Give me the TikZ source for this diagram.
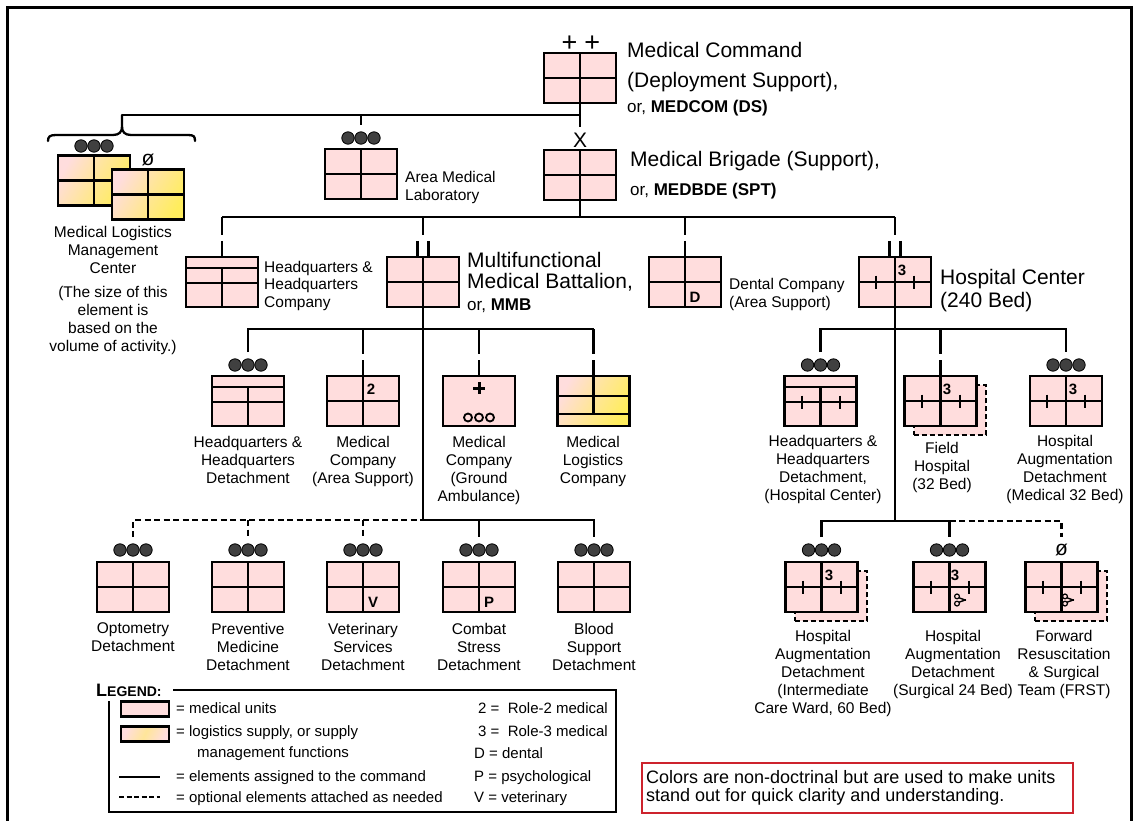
\documentclass[tikz,border=0pt]{standalone}
\usepackage{fontspec}
\setmainfont{Liberation Sans}
\usetikzlibrary{calc}

\definecolor{medpink}{RGB}{255,221,221}
\definecolor{logyellow}{RGB}{255,240,70}
\definecolor{dotgray}{RGB}{64,64,64}
\definecolor{notered}{RGB}{205,35,45}

\newcommand{\fsz}[2]{\fontsize{#1}{#2}\selectfont}

% quadrant lines of the medical unit symbol
\newcommand{\medlines}[1]{\draw[inln] (#1.north) -- (#1.south) (#1.west) -- (#1.east);}
% headquarters symbol: extra bar across the top
\newcommand{\hqlines}[1]{\draw[inln] ($(#1.north west)+(0,11)$) -- ($(#1.north east)+(0,11)$)
   ($(#1.west)+(0,1)$) -- ($(#1.east)+(0,1)$) ($(#1.north)+(0,11)$) -- (#1.south);}
% hospital ticks on the horizontal line
\newcommand{\hticks}[2]{\draw[tickln] ($(#1.center)+(-19,#2-6.5)$) -- ++(0,13) ($(#1.center)+(19,#2-6.5)$) -- ++(0,13);}
% echelon bars above a box
\newcommand{\coybar}[1]{\draw[conn] ($(#1.north)+(0,-16)$) -- (#1.north);}
\newcommand{\bnbars}[1]{\draw[conn] ($(#1.north)+(-5.5,-16)$) -- ++(0,16) ($(#1.north)+(5.5,-16)$) -- ++(0,16);}
% detachment dots; the named coordinate is where the feeding line stops
\newcommand{\threedots}[3]{\coordinate (#1) at (#2,#3-13);
  \foreach \dx in {-13,0,13}{\filldraw[fill=dotgray,draw=black,line width=0.8pt] ({#2+\dx},#3) circle (6.2pt);}}
% surgical scissors
\newcommand{\scissors}[2]{\draw[line width=1.2pt] (#1-3,#2-3.6) circle (2.4pt) (#1-3,#2+3.6) circle (2.4pt);
  \draw[line width=1.4pt] (#1-1,#2-2.2) -- (#1+6,#2+0.3) (#1-1,#2+2.2) -- (#1+6,#2-0.3);}

\begin{document}
\begin{tikzpicture}[x=1pt,y=-1pt,
  unit/.style={draw,line width=2.8pt,fill=medpink,minimum width=72pt,minimum height=50pt,inner sep=0pt,outer sep=0pt},
  logunit/.style={draw,line width=2.8pt,minimum width=72pt,minimum height=50pt,inner sep=0pt,outer sep=0pt,
     left color=medpink,right color=logyellow!85!medpink,middle color=medpink!55!logyellow,shading angle=60},
  ghost/.style={draw,line width=2pt,dash pattern=on 5pt off 3pt,fill=medpink,minimum width=72pt,minimum height=50pt,inner sep=0pt},
  inln/.style={line width=2.3pt},
  conn/.style={line width=2.3pt},
  opt/.style={line width=2.3pt,dash pattern=on 6pt off 3.5pt},
  tickln/.style={line width=2pt},
  big/.style={inner sep=0pt,font=\fsz{21}{23},align=left},
  sub/.style={inner sep=0pt,font=\fsz{17}{20}},
  lab/.style={inner sep=0pt,font=\fsz{15.5}{18},align=center,anchor=north},
  labl/.style={inner sep=0pt,font=\fsz{15.5}{18},align=left,anchor=north west},
  role/.style={inner sep=0pt,font=\bfseries\fsz{15}{15}},
  ech/.style={inner sep=0pt,font=\fsz{21}{21}},
  leg/.style={inner sep=0pt,font=\fsz{15}{18},anchor=base west},
]
\path[use as bounding box,fill=white] (0,0) rectangle (1138,821);
\draw[line width=3pt] (7,830) -- (7,8) -- (1131,8) -- (1131,830);

% ---------- Medical Command ----------
\node[unit] (mc) at (580,78) {}; \medlines{mc}
\node[inner sep=0pt,font=\fsz{27}{27}] (mcech) at (581,44) {+\hspace{7pt}+};
\node[big,font=\fsz{21}{30},anchor=north west] (mctxt) at (627,42) {Medical Command\\(Deployment Support),};
\node[sub,anchor=base west] (mcsub) at (627,113) {or, \textbf{MEDCOM (DS)}};

% ---------- Medical Brigade ----------
\node[ech,anchor=base] (bdeech) at (580,148) {X};
\node[unit] (bde) at (580,175) {}; \medlines{bde}
\node[big,anchor=base west] (bdetxt) at (630,167) {Medical Brigade (Support),};
\node[sub,anchor=base west] (bdesub) at (630,196) {or, \textbf{MEDBDE (SPT)}};

% ---------- Area Medical Laboratory ----------
\threedots{amldots}{361}{138}
\node[unit] (aml) at (361,174) {}; \medlines{aml}
\node[labl] (amltxt) at (405,170.8) {Area Medical\\Laboratory};

% ---------- Medical Logistics Management Center ----------
\threedots{mlmcdots}{94}{146}
\node[logunit] (mlmca) at (94,180.5) {}; \medlines{mlmca}
\node[ech] (mlmcech) at (148,160) {ø};
\node[logunit] (mlmcb) at (148,194.5) {}; \medlines{mlmcb}
\node[lab] (mlmctxt) at (113,225.8) {Medical Logistics\\Management\\Center};
\node[lab] (mlmcnote) at (113,285.8) {(The size of this\\element is\\based on the\\volume of activity.)};

% ---------- Brigade subordinates ----------
\node[unit] (hqc) at (222,282) {}; \hqlines{hqc}
\node[labl,font=\fsz{15.5}{17.5}] (hqctxt) at (264,260.8) {Headquarters \&\\Headquarters\\Company};

\node[unit] (mmb) at (423,282) {}; \medlines{mmb}
\node[big,font=\fsz{21}{21.5},anchor=north west] (mmbtxt) at (467,251.9) {Multifunctional\\Medical Battalion,};
\node[sub,anchor=base west] (mmbsub) at (467,310) {or, \textbf{MMB}};

\node[unit] (dent) at (685,282) {}; \medlines{dent}
\node[role] (dentD) at (695,297) {D};
\node[labl] (denttxt) at (729,277.8) {Dental Company\\(Area Support)};

\node[unit] (hosp) at (895,282) {}; \medlines{hosp} \hticks{hosp}{0}
\node[role] (hosp3) at (902,270) {3};
\node[big,anchor=north west] (hosptxt) at (940,268.9) {Hospital Center\\(240 Bed)};

% ---------- Battalion subordinates ----------
\threedots{hqddots}{248}{365}
\node[unit] (hqd) at (248,401) {}; \hqlines{hqd}
\node[lab] (hqdtxt) at (248,435.8) {Headquarters \&\\Headquarters\\Detachment};

\node[unit] (mcas) at (363,401) {}; \medlines{mcas}
\node[role] (mcas2) at (371,389) {2};
\node[lab] (mcastxt) at (363,435.8) {Medical\\Company\\(Area Support)};

\node[unit] (mcga) at (479,401) {};
\draw[line width=3pt] (473,388) -- (485,388) (479,382) -- (479,394);
\draw[line width=1.8pt] (468,417.5) circle (4pt) (479,417.5) circle (4pt) (490,417.5) circle (4pt);
\node[lab] (mcgatxt) at (479,435.8) {Medical\\Company\\(Ground\\Ambulance)};

\node[logunit] (mlc) at (593.5,401) {};
\draw[inln] (mlc.north) -- ($(mlc.north)+(0,38)$)
  ($(mlc.north west)+(0,20)$) -- ($(mlc.north east)+(0,20)$)
  ($(mlc.north west)+(0,38)$) -- ($(mlc.north east)+(0,38)$);
\node[lab] (mlctxt) at (593,435.8) {Medical\\Logistics\\Company};

% ---------- Attached detachments ----------
\threedots{optdots}{133}{550}
\node[unit] (optom) at (133,587) {}; \medlines{optom}
\node[lab] (optomtxt) at (133,622.8) {Optometry\\Detachment};

\threedots{pmdots}{248}{550}
\node[unit] (pm) at (248,587) {}; \medlines{pm}
\node[lab] (pmtxt) at (248,622.8) {Preventive\\Medicine\\Detachment};

\threedots{vetdots}{363}{550}
\node[unit] (vet) at (363,587) {}; \medlines{vet}
\node[role] (vetV) at (373,602) {V};
\node[lab] (vettxt) at (363,622.8) {Veterinary\\Services\\Detachment};

\threedots{csdots}{479}{550}
\node[unit] (cs) at (479,587) {}; \medlines{cs}
\node[role] (csP) at (489,602) {P};
\node[lab] (cstxt) at (479,622.8) {Combat\\Stress\\Detachment};

\threedots{bsddots}{594}{550}
\node[unit] (bsd) at (594,587) {}; \medlines{bsd}
\node[lab] (bsdtxt) at (594,622.8) {Blood\\Support\\Detachment};

% ---------- Hospital Center subordinates ----------
\threedots{hhddots}{820.5}{365}
\node[unit] (hhd) at (820.5,401) {}; \hqlines{hhd} \hticks{hhd}{1}
\node[lab] (hhdtxt) at (823,434.8) {Headquarters \&\\Headquarters\\Detachment,\\(Hospital Center)};

\node[ghost] (fhshadow) at (949.5,410) {};
\node[unit] (fh) at (940.5,401) {}; \medlines{fh} \hticks{fh}{0}
\node[role] (fh3) at (947,389) {3};
\node[lab] (fhtxt) at (942,441.8) {Field\\Hospital\\(32 Bed)};

\threedots{had32dots}{1066}{365}
\node[unit] (had32) at (1066,401) {}; \medlines{had32} \hticks{had32}{0}
\node[role] (had323) at (1073,389) {3};
\node[lab] (had32txt) at (1065,434.8) {Hospital\\Augmentation\\Detachment\\(Medical 32 Bed)};

\threedots{icwdots}{821.5}{550}
\node[ghost] (icwshadow) at (830.5,596) {};
\node[unit] (icw) at (821.5,587) {}; \medlines{icw} \hticks{icw}{0}
\node[role] (icw3) at (829,575) {3};
\node[lab] (icwtxt) at (823,629.8) {Hospital\\Augmentation\\Detachment\\(Intermediate\\Care Ward, 60 Bed)};

\threedots{surgdots}{949.5}{550}
\node[unit] (surg) at (949.5,587) {}; \medlines{surg} \hticks{surg}{0}
\node[role] (surg3) at (955,575) {3};
\scissors{960}{600}
\node[lab] (surgtxt) at (953,629.8) {Hospital\\Augmentation\\Detachment\\(Surgical 24 Bed)};

\node[ech] (frstech) at (1061.5,550) {ø};
\coordinate (frstend) at (1061.5,537);
\node[ghost] (frstshadow) at (1070.5,596) {};
\node[unit] (frst) at (1061.5,587) {}; \medlines{frst} \hticks{frst}{0}
\scissors{1068}{600}
\node[lab] (frsttxt) at (1064,629.8) {Forward\\Resuscitation\\\& Surgical\\Team (FRST)};

% ---------- Connectors ----------
\coordinate (mcjoin) at (580,115);
\coordinate (mcend) at (580,127);
\coordinate (bracetip) at (122,115);
\draw[conn] (mc.south) -- (mcend);
\draw[conn] (bracetip) -- (mcjoin);
\draw[conn] (aml.north |- mcjoin) -- (amldots);
\draw[conn,line cap=round] (48,141) .. controls (48,136.5) and (50,135) .. (56,135) -- (113,135)
   .. controls (119,135) and (122,132) .. (122,127) -- (bracetip);
\draw[conn,line cap=round] (122,127) .. controls (122,132) and (125,135) .. (131,135) -- (188,135)
   .. controls (194,135) and (195,136.5) .. (195,141);

\coordinate (bus2) at (580,217);
\draw[conn] (bde.south) -- (bus2);
\draw[conn] (hqc.north |- bus2) -- (hosp.north |- bus2);
\foreach \u in {hqc,mmb,dent,hosp} {\draw[conn] (\u.north |- bus2) -- ($(\u.north)+(0,-22)$);}
\coybar{hqc} \bnbars{mmb} \coybar{dent} \bnbars{hosp}

\coordinate (bus3m) at (423,329);
\coordinate (bus4m) at (423,520);
\draw[conn] (mmb.south) -- (bus4m);
\draw[conn] (hqddots) -- (hqd.north |- bus3m) -- (mlc.north |- bus3m);
\foreach \u in {mcas,mcga,mlc} {\draw[conn] (\u.north |- bus3m) -- ($(\u.north)+(0,-22)$); \coybar{\u}}

\draw[opt] (optdots) -- (optom.north |- bus4m) -- (bus4m);
\draw[opt] (pm.north |- bus4m) -- (pmdots);
\draw[opt] (vet.north |- bus4m) -- (vetdots);
\draw[conn] (bus4m) -- (bsd.north |- bus4m) -- (bsddots);
\draw[conn] (cs.north |- bus4m) -- (csdots);

\coordinate (bus3h) at (895,329);
\coordinate (bus4h) at (895,521);
\draw[conn] (hosp.south) -- (bus4h);
\draw[conn] (hhddots) -- (hhd.north |- bus3h) -- (had32.north |- bus3h) -- (had32dots);
\draw[conn] (fh.north |- bus3h) -- ($(fh.north)+(0,-22)$); \coybar{fh}
\draw[conn] (icwdots) -- (icw.north |- bus4h) -- (surg.north |- bus4h) -- (surgdots);
\draw[opt] (surg.north |- bus4h) -- (frst.north |- bus4h) -- (frstend);

% ---------- Legend ----------
\node[anchor=base west,inner sep=0pt,font=\bfseries] (legtitle) at (96,696) {{\fsz{18}{18}L}{\fsz{14}{14}EGEND:}};
\draw[line width=1.6pt] (173,690) -- (616,690) -- (616,812) -- (109,812) -- (109,701);
\node[draw,line width=2.4pt,fill=medpink,minimum width=48pt,minimum height=15pt,inner sep=0pt] (sw1) at (145,709) {};
\node[draw,line width=2.4pt,minimum width=48pt,minimum height=15pt,inner sep=0pt,
  left color=medpink,right color=medpink,middle color=logyellow!45!medpink,shading angle=65] (sw2) at (145,734) {};
\node[leg] (lg1) at (176,713) {= medical units};
\node[leg] (lg2) at (176,736) {= logistics supply, or supply};
\node[leg] (lg2b) at (197,757) {management functions};
\coordinate (solidA) at (119,777); \coordinate (solidB) at (160,777);
\draw[conn] (solidA) -- (solidB);
\node[leg] (lg3) at (176,781) {= elements assigned to the command};
\coordinate (dashA) at (119,797); \coordinate (dashB) at (160,797);
\draw[line width=2pt,dash pattern=on 5pt off 2.5pt] (dashA) -- (dashB);
\node[leg] (lg4) at (176,802) {= optional elements attached as needed};
\node[leg] (lr2) at (478,713) {2 = \ Role-2 medical};
\node[leg] (lr3) at (478,736) {3 = \ Role-3 medical};
\node[leg] (lrD) at (474,758) {D = dental};
\node[leg] (lrP) at (474,781) {P = psychological};
\node[leg] (lrV) at (474,802) {V = veterinary};

% ---------- Note ----------
\node[draw=notered,line width=1.8pt,minimum width=431pt,minimum height=50pt,inner sep=0pt,anchor=north west] (note) at (641,762) {};
\node[anchor=north west,inner sep=0pt,font=\fsz{18}{18.5},align=left] (notetxt) at (646,770)
  {Colors are non-doctrinal but are used to make units\\stand out for quick clarity and understanding.};
\end{tikzpicture}
\end{document}
